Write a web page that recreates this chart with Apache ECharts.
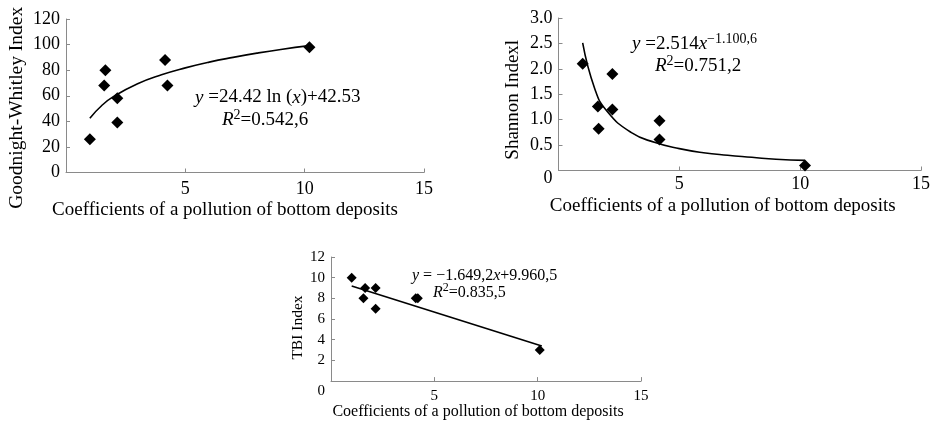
<!DOCTYPE html>
<html>
<head>
<meta charset="utf-8">
<script src="https://cdn.jsdelivr.net/npm/echarts@6/dist/echarts.min.js"></script>
<style>
  html, body { margin: 0; padding: 0; background: #fff; }
  #chart { width: 933px; height: 421px; }
</style>
</head>
<body>
<div id="chart"></div>
<script>
// x = pollution coefficient of bottom deposits
const gwX = [1.0, 1.6, 1.65, 2.15, 2.15, 4.15, 4.25, 10.2]
const gwY = [26, 68, 80, 58, 39, 88, 68, 98]
const gwFitX = [1.0, 1.5, 2, 3, 4, 5, 6, 7, 8, 9, 10.2]
const gwFitY = [42.5, 52.4, 59.5, 69.4, 76.4, 81.8, 86.3, 90.0, 93.3, 96.2, 99.2]

const shX = [1.0, 1.63, 1.66, 2.23, 2.23, 4.18, 4.18, 10.2]
const shY = [2.1, 1.26, 0.82, 1.9, 1.2, 0.98, 0.61, 0.1]
const shFitX = [1.0, 1.5, 2, 3, 4, 5, 6, 7, 8, 9, 10.2]
const shFitY = [2.51, 1.61, 1.17, 0.75, 0.55, 0.43, 0.35, 0.30, 0.26, 0.22, 0.2]

const tbiX = [1.0, 1.65, 1.57, 2.16, 2.16, 4.1, 4.2, 10.1]
const tbiY = [10, 9, 8, 9, 7, 8, 8, 3]
const tbiFitX = [1.0, 10.2]
const tbiFitY = [9.2, 3.4]

const xTicks = [0, 5, 10, 15]
const xTitle = 'Coefficients of a pollution of bottom deposits'

const FONT = 'Liberation Serif'
const AXIS = '#8a8a8a'

const pairs = (xs, ys) => xs.map((x, i) => [x, ys[i]])

function xAxisOf (grid, fontSize, nameSize, labelMargin, nameGap, shift) {
  return {
    type: 'value',
    gridIndex: grid,
    min: xTicks[0],
    max: xTicks[xTicks.length - 1],
    interval: 5,
    splitLine: { show: false },
    axisLine: { lineStyle: { color: AXIS, width: 1 } },
    axisTick: { inside: true, length: 4, lineStyle: { color: AXIS } },
    axisLabel: {
      showMinLabel: false,
      color: '#000',
      fontFamily: FONT,
      fontSize: fontSize,
      margin: labelMargin
    },
    name: xTitle,
    nameLocation: 'middle',
    nameGap: nameGap,
    nameTextStyle: {
      color: '#000',
      fontFamily: FONT,
      fontSize: nameSize,
      padding: [0, shift, 0, 0]
    }
  }
}

function yAxisOf (grid, max, interval, fontSize, nameSize, fmt, name, nameGap, drop, zeroDrop) {
  return {
    type: 'value',
    gridIndex: grid,
    min: 0,
    max: max,
    interval: interval,
    splitLine: { show: false },
    axisLine: { show: true, lineStyle: { color: AXIS, width: 1 } },
    axisTick: { show: true, inside: true, length: 4, lineStyle: { color: AXIS } },
    axisLabel: {
      color: '#000',
      fontFamily: FONT,
      fontSize: fontSize,
      margin: 6,
      formatter: fmt,
      rich: { z: { fontFamily: FONT, fontSize: fontSize, color: '#000', padding: [zeroDrop, 0, 0, 0] } }
    },
    name: name,
    nameLocation: 'middle',
    nameGap: nameGap,
    nameTextStyle: {
      color: '#000',
      fontFamily: FONT,
      fontSize: nameSize,
      padding: [0, drop, 0, 0]
    }
  }
}

function dots (idx, data, size) {
  return {
    type: 'scatter',
    xAxisIndex: idx,
    yAxisIndex: idx,
    data: data,
    symbol: 'diamond',
    symbolSize: [size, size],
    itemStyle: { color: '#000', opacity: 1 },
    z: 3
  }
}

function fit (idx, data) {
  return {
    type: 'line',
    xAxisIndex: idx,
    yAxisIndex: idx,
    data: data,
    smooth: true,
    showSymbol: false,
    lineStyle: { color: '#000', width: 1.6 },
    z: 2
  }
}

function eq (left, top, text, size) {
  return {
    type: 'text',
    left: left,
    top: top,
    style: {
      text: text,
      font: size + 'px "' + FONT + '"',
      fill: '#000',
      rich: {
        i: { fontFamily: FONT, fontSize: size, fontStyle: 'italic', fill: '#000' },
        s: { fontFamily: FONT, fontSize: Math.round(size * 0.72), fill: '#000', padding: [0, 0, 10, 0] }
      }
    }
  }
}

const chart = echarts.init(document.getElementById('chart'), null, { renderer: 'canvas' })

chart.setOption({
  animation: false,
  backgroundColor: '#fff',
  grid: [
    { left: 66, top: 19, width: 358, height: 153.5 },
    { left: 558.5, top: 18, width: 366.5, height: 152.5 },
    { left: 331, top: 257, width: 310, height: 129 }
  ],
  xAxis: [
    xAxisOf(0, 18, 19, 8, 28, 40),
    xAxisOf(1, 18, 19, 5, 26, 34),
    xAxisOf(2, 15, 16, 7, 18, 16)
  ],
  yAxis: [
    yAxisOf(0, 120, 20, 18, 19.5, v => String(v), 'Goodnight-Whitley Index', 39, 24, 0),
    yAxisOf(1, 3, 0.5, 18, 19, v => (v === 0 ? '{z|0}' : v.toFixed(1)), 'Shannon Indexl', 36, 11, 15),
    yAxisOf(2, 12, 2, 15, 15.5, v => (v === 0 ? '{z|0}' : String(v)), 'TBI Index', 25, 17, 20)
  ],
  series: [
    fit(0, pairs(gwFitX, gwFitY)),
    dots(0, pairs(gwX, gwY), 12),
    fit(1, pairs(shFitX, shFitY)),
    dots(1, pairs(shX, shY), 12),
    fit(2, pairs(tbiFitX, tbiFitY)),
    dots(2, pairs(tbiX, tbiY), 10)
  ],
  graphic: [
    eq(195, 88, '{i|y} =24.42 ln ({i|x})+42.53', 19),
    eq(222, 108, '{i|R}{s|2}=0.542,6', 19),
    eq(632, 32, '{i|y} =2.514{i|x}{s|−1.100,6}', 19),
    eq(655, 54, '{i|R}{s|2}=0.751,2', 19),
    eq(412, 268, '{i|y} = −1.649,2{i|x}+9.960,5', 16),
    eq(433, 282, '{i|R}{s|2}=0.835,5', 16)
  ]
})
</script>
</body>
</html>
